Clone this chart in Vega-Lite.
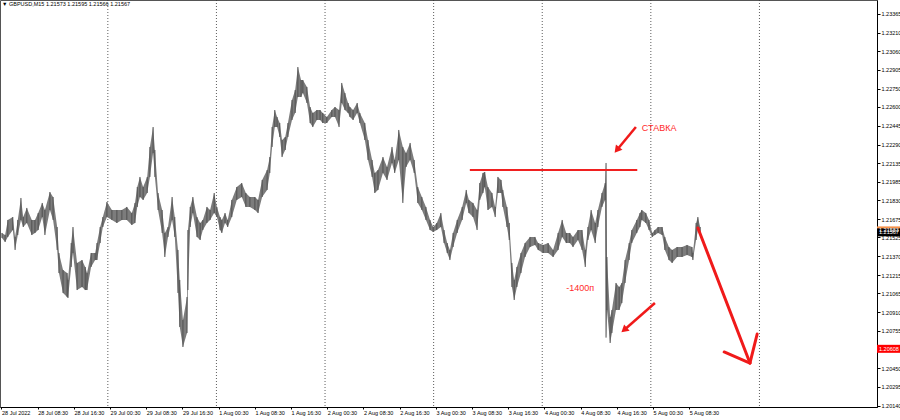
{
  "$schema": "https://vega.github.io/schema/vega-lite/v6.json",
  "width": 877,
  "height": 407,
  "autosize": {"type": "none"},
  "padding": {"left": 0, "top": 0, "right": 23, "bottom": 13},
  "background": "white",
  "config": {"view": {"stroke": "#555555", "strokeWidth": 1}, "font": "Liberation Sans",
    "axis": {"labelOverlap": false, "labelBound": false, "labelFlush": false}},
  "title": {"text": "▼ GBPUSD,M15  1.21573 1.21595 1.21566 1.21567", "anchor": "start", "fontSize": 5.5, "fontWeight": "normal", "color": "#000000", "offset": -8, "dx": 2, "font": "Liberation Sans"},
  "datasets": {
    "bars": [
      {"h":0.1,"hi":1.21562,"lo":1.21521},{"h":0.8,"hi":1.21545,"lo":1.21488},{"h":1.4,"hi":1.21669,"lo":1.21529},{"h":2.5,"hi":1.21693,"lo":1.21586},{"h":3.0,"hi":1.21529,"lo":1.21422},{"h":3.6,"hi":1.21669,"lo":1.21545},{"h":4.3,"hi":1.21850,"lo":1.21669},{"h":4.8,"hi":1.21693,"lo":1.21611},{"h":5.6,"hi":1.21768,"lo":1.21644},{"h":6.7,"hi":1.21669,"lo":1.21545},
      {"h":7.4,"hi":1.21669,"lo":1.21562},{"h":8.1,"hi":1.21726,"lo":1.21586},{"h":9.0,"hi":1.21809,"lo":1.21693},{"h":9.6,"hi":1.21751,"lo":1.21545},{"h":10.7,"hi":1.21899,"lo":1.21751},{"h":11.4,"hi":1.21858,"lo":1.21669},{"h":12.3,"hi":1.21611,"lo":1.21422},{"h":12.7,"hi":1.21397,"lo":1.21232},{"h":13.6,"hi":1.21257,"lo":1.21068},{"h":14.5,"hi":1.21232,"lo":1.21035},
      {"h":14.7,"hi":1.21175,"lo":1.21027},{"h":15.4,"hi":1.21479,"lo":1.21282},{"h":15.8,"hi":1.21611,"lo":1.21397},{"h":16.7,"hi":1.21315,"lo":1.21092},{"h":17.8,"hi":1.21339,"lo":1.21117},{"h":18.5,"hi":1.21282,"lo":1.21092},{"h":18.9,"hi":1.21232,"lo":1.21092},{"h":19.8,"hi":1.21397,"lo":1.21282},{"h":20.7,"hi":1.21397,"lo":1.21339},{"h":21.1,"hi":1.21479,"lo":1.21339},
      {"h":21.8,"hi":1.21611,"lo":1.21479},{"h":22.4,"hi":1.21693,"lo":1.21611},{"h":23.3,"hi":1.21817,"lo":1.21693},{"h":24.4,"hi":1.21751,"lo":1.21669},{"h":25.5,"hi":1.21751,"lo":1.21644},{"h":26.6,"hi":1.21751,"lo":1.21669},{"h":27.7,"hi":1.21776,"lo":1.21669},{"h":28.8,"hi":1.21726,"lo":1.21628},{"h":29.5,"hi":1.21809,"lo":1.21644},{"h":30.0,"hi":1.21940,"lo":1.21776},
      {"h":30.6,"hi":1.22023,"lo":1.21858},{"h":31.3,"hi":1.21940,"lo":1.21834},{"h":32.2,"hi":1.22023,"lo":1.21891},{"h":32.8,"hi":1.22270,"lo":1.22023},{"h":33.5,"hi":1.22434,"lo":1.22220},{"h":33.9,"hi":1.22245,"lo":1.22023},{"h":34.6,"hi":1.21891,"lo":1.21751},{"h":35.5,"hi":1.21751,"lo":1.21562},{"h":36.1,"hi":1.21562,"lo":1.21364},{"h":36.8,"hi":1.21611,"lo":1.21529},
      {"h":37.7,"hi":1.21858,"lo":1.21669},{"h":38.3,"hi":1.21693,"lo":1.21529},{"h":39.0,"hi":1.21422,"lo":1.21068},{"h":39.4,"hi":1.21175,"lo":1.20788},{"h":40.1,"hi":1.20845,"lo":1.20623},{"h":41.0,"hi":1.21035,"lo":1.20738},{"h":41.2,"hi":1.21586,"lo":1.21092},{"h":41.7,"hi":1.21776,"lo":1.21611},{"h":42.3,"hi":1.21858,"lo":1.21726},{"h":43.2,"hi":1.21693,"lo":1.21529},
      {"h":43.9,"hi":1.21644,"lo":1.21504},{"h":44.5,"hi":1.21669,"lo":1.21586},{"h":45.4,"hi":1.21776,"lo":1.21644},{"h":46.1,"hi":1.21751,"lo":1.21669},{"h":47.0,"hi":1.21891,"lo":1.21726},{"h":47.6,"hi":1.21776,"lo":1.21693},{"h":48.3,"hi":1.21693,"lo":1.21586},{"h":48.7,"hi":1.21669,"lo":1.21562},{"h":49.4,"hi":1.21726,"lo":1.21644},{"h":50.0,"hi":1.21669,"lo":1.21611},
      {"h":50.9,"hi":1.21834,"lo":1.21693},{"h":52.0,"hi":1.21940,"lo":1.21834},{"h":53.1,"hi":1.21973,"lo":1.21858},{"h":54.0,"hi":1.21891,"lo":1.21776},{"h":54.9,"hi":1.21858,"lo":1.21776},{"h":56.0,"hi":1.21858,"lo":1.21751},{"h":56.7,"hi":1.21834,"lo":1.21726},{"h":57.6,"hi":1.21998,"lo":1.21858},{"h":58.7,"hi":1.22080,"lo":1.21916},{"h":59.3,"hi":1.22187,"lo":1.22056},
      {"h":59.8,"hi":1.22434,"lo":1.22270},{"h":60.4,"hi":1.22574,"lo":1.22434},{"h":60.9,"hi":1.22517,"lo":1.22434},{"h":61.5,"hi":1.22467,"lo":1.22352},{"h":62.0,"hi":1.22327,"lo":1.22187},{"h":62.7,"hi":1.22352,"lo":1.22245},{"h":63.3,"hi":1.22467,"lo":1.22352},{"h":64.2,"hi":1.22657,"lo":1.22492},{"h":64.9,"hi":1.22739,"lo":1.22550},{"h":65.5,"hi":1.22928,"lo":1.22681},
      {"h":66.2,"hi":1.22821,"lo":1.22681},{"h":66.6,"hi":1.22821,"lo":1.22714},{"h":67.5,"hi":1.22764,"lo":1.22632},{"h":68.2,"hi":1.22599,"lo":1.22467},{"h":68.8,"hi":1.22550,"lo":1.22434},{"h":69.7,"hi":1.22574,"lo":1.22492},{"h":70.4,"hi":1.22574,"lo":1.22492},{"h":71.0,"hi":1.22550,"lo":1.22467},{"h":71.9,"hi":1.22517,"lo":1.22467},{"h":73.0,"hi":1.22574,"lo":1.22517},
      {"h":73.7,"hi":1.22599,"lo":1.22517},{"h":74.6,"hi":1.22574,"lo":1.22434},{"h":75.2,"hi":1.22797,"lo":1.22632},{"h":75.9,"hi":1.22714,"lo":1.22574},{"h":76.6,"hi":1.22632,"lo":1.22550},{"h":77.0,"hi":1.22599,"lo":1.22517},{"h":77.7,"hi":1.22574,"lo":1.22492},{"h":78.6,"hi":1.22632,"lo":1.22550},{"h":79.2,"hi":1.22550,"lo":1.22467},{"h":80.3,"hi":1.22467,"lo":1.22327},
      {"h":81.0,"hi":1.22327,"lo":1.22163},{"h":81.9,"hi":1.22163,"lo":1.22023},{"h":82.5,"hi":1.22056,"lo":1.21891},{"h":83.2,"hi":1.22080,"lo":1.21916},{"h":84.3,"hi":1.22187,"lo":1.22056},{"h":85.2,"hi":1.22105,"lo":1.21998},{"h":86.3,"hi":1.22270,"lo":1.22138},{"h":86.9,"hi":1.22163,"lo":1.22056},{"h":87.8,"hi":1.22410,"lo":1.22163},{"h":88.7,"hi":1.22270,"lo":1.21809},
      {"h":89.4,"hi":1.22220,"lo":1.22105},{"h":90.3,"hi":1.22303,"lo":1.22163},{"h":91.2,"hi":1.22163,"lo":1.22056},{"h":92.0,"hi":1.21940,"lo":1.21809},{"h":92.9,"hi":1.21858,"lo":1.21751},{"h":93.8,"hi":1.21776,"lo":1.21669},{"h":94.7,"hi":1.21669,"lo":1.21586},{"h":95.4,"hi":1.21611,"lo":1.21570},{"h":96.2,"hi":1.21644,"lo":1.21586},{"h":97.1,"hi":1.21726,"lo":1.21611},
      {"h":97.8,"hi":1.21586,"lo":1.21479},{"h":98.5,"hi":1.21479,"lo":1.21397},{"h":99.1,"hi":1.21422,"lo":1.21339},{"h":99.8,"hi":1.21562,"lo":1.21446},{"h":100.7,"hi":1.21669,"lo":1.21562},{"h":101.8,"hi":1.21776,"lo":1.21669},{"h":102.7,"hi":1.21916,"lo":1.21809},{"h":103.3,"hi":1.21834,"lo":1.21726},{"h":104.2,"hi":1.21809,"lo":1.21693},{"h":105.1,"hi":1.21751,"lo":1.21586},
      {"h":105.7,"hi":1.21973,"lo":1.21834},{"h":106.4,"hi":1.22056,"lo":1.21891},{"h":106.8,"hi":1.22064,"lo":1.21940},{"h":107.5,"hi":1.21940,"lo":1.21751},{"h":108.4,"hi":1.21891,"lo":1.21776},{"h":109.1,"hi":1.21776,"lo":1.21693},{"h":109.7,"hi":1.22023,"lo":1.21891},{"h":110.4,"hi":1.21998,"lo":1.21891},{"h":110.8,"hi":1.21916,"lo":1.21776},{"h":111.7,"hi":1.21776,"lo":1.21611},
      {"h":112.2,"hi":1.21644,"lo":1.21504},{"h":112.8,"hi":1.21315,"lo":1.21117},{"h":113.3,"hi":1.21175,"lo":1.21010},{"h":113.9,"hi":1.21282,"lo":1.21117},{"h":114.8,"hi":1.21397,"lo":1.21232},{"h":115.7,"hi":1.21479,"lo":1.21364},{"h":116.8,"hi":1.21529,"lo":1.21446},{"h":117.9,"hi":1.21529,"lo":1.21463},{"h":118.6,"hi":1.21479,"lo":1.21422},{"h":119.7,"hi":1.21463,"lo":1.21397},
      {"h":120.8,"hi":1.21479,"lo":1.21397},{"h":121.9,"hi":1.21422,"lo":1.21364},{"h":123.0,"hi":1.21562,"lo":1.21422},{"h":123.9,"hi":1.21669,"lo":1.21529},{"h":124.8,"hi":1.21562,"lo":1.21479},{"h":125.6,"hi":1.21562,"lo":1.21479},{"h":126.3,"hi":1.21529,"lo":1.21446},{"h":127.4,"hi":1.21586,"lo":1.21504},{"h":128.3,"hi":1.21586,"lo":1.21422},{"h":129.0,"hi":1.21422,"lo":1.21282},
      {"h":129.6,"hi":1.21611,"lo":1.21504},{"h":130.3,"hi":1.21751,"lo":1.21586},{"h":131.2,"hi":1.21644,"lo":1.21479},{"h":131.8,"hi":1.21751,"lo":1.21611},{"h":132.7,"hi":1.21891,"lo":1.21776},{"h":133.4,"hi":1.21973,"lo":1.21834},{"h":133.6,"hi":1.22138,"lo":1.20700},{"h":133.8,"hi":1.21364,"lo":1.20928},{"h":134.5,"hi":1.20870,"lo":1.20656},{"h":134.9,"hi":1.20928,"lo":1.20738},
      {"h":135.8,"hi":1.21150,"lo":1.20928},{"h":136.5,"hi":1.21117,"lo":1.20928},{"h":137.1,"hi":1.21150,"lo":1.20985},{"h":137.8,"hi":1.21339,"lo":1.21150},{"h":138.7,"hi":1.21479,"lo":1.21339},{"h":139.3,"hi":1.21586,"lo":1.21479},{"h":140.4,"hi":1.21669,"lo":1.21562},{"h":141.1,"hi":1.21726,"lo":1.21611},{"h":141.5,"hi":1.21751,"lo":1.21669},{"h":142.4,"hi":1.21726,"lo":1.21644},
      {"h":143.1,"hi":1.21669,"lo":1.21586},{"h":143.8,"hi":1.21562,"lo":1.21529},{"h":144.4,"hi":1.21586,"lo":1.21545},{"h":145.1,"hi":1.21611,"lo":1.21562},{"h":146.0,"hi":1.21611,"lo":1.21545},{"h":146.6,"hi":1.21529,"lo":1.21422},{"h":147.5,"hi":1.21446,"lo":1.21339},{"h":148.2,"hi":1.21422,"lo":1.21315},{"h":149.3,"hi":1.21446,"lo":1.21364},{"h":150.4,"hi":1.21446,"lo":1.21364},
      {"h":151.5,"hi":1.21463,"lo":1.21381},{"h":152.6,"hi":1.21446,"lo":1.21364},{"h":152.8,"hi":1.21397,"lo":1.21339},{"h":153.5,"hi":1.21644,"lo":1.21504},{"h":153.9,"hi":1.21693,"lo":1.21586},{"h":154.4,"hi":1.21611,"lo":1.21562}
    ],
    "days": [{"h":23.5},{"h":47.5},{"h":71.5},{"h":95.5},{"h":119.5},{"h":143.5},{"h":167.5}],
    "top": [{"h":103.5,"p":1.22080},{"h":140.5,"p":1.22080}],
    "small": [{"s":"a1","h":140.2,"p":1.22434},{"s":"a1","h":136.0,"p":1.22245},{"s":"a2","h":144.4,"p":1.20985},{"s":"a2","h":137.6,"p":1.20763}],
    "big": [{"s":"shaft","h":153.9,"p":1.21603},{"s":"shaft","h":165.4,"p":1.20491},{"s":"v1","h":159.7,"p":1.20582},{"s":"v1","h":165.4,"p":1.20491},{"s":"v2","h":167.0,"p":1.20730},{"s":"v2","h":165.4,"p":1.20491}],
    "notes": [{"t":"СТАВКА","h":141.5,"p":1.22426},{"t":"-1400п","h":124.8,"p":1.21109}],
    "tags": [{"k":"ask","p":1.21583,"t":"1.21583"},{"k":"bid","p":1.21567,"t":"1.21567"},{"k":"lvl","p":1.20608,"t":"1.20608"}]
  },
  "layer": [
    {
      "data": {"name": "days"},
      "mark": {"type": "rule", "color": "#333333", "strokeDash": [1, 2], "strokeWidth": 0.8},
      "encoding": {
        "x": {"field": "h", "type": "quantitative",
          "scale": {"domain": [-0.33, 193.48], "nice": false, "zero": false},
          "axis": {"orient": "bottom", "title": null, "grid": false, "tickCount": 40,
            "values": [0,8,16,24,32,40,48,56,64,72,80,88,96,104,112,120,128,136,144,152],
            "labelExpr": "['28 Jul 2022','28 Jul 08:30','28 Jul 16:30','29 Jul 00:30','29 Jul 08:30','29 Jul 16:30','1 Aug 00:30','1 Aug 08:30','1 Aug 16:30','2 Aug 00:30','2 Aug 08:30','2 Aug 16:30','3 Aug 00:30','3 Aug 08:30','3 Aug 16:30','4 Aug 00:30','4 Aug 08:30','4 Aug 16:30','5 Aug 00:30','5 Aug 08:30'][round(datum.value/8)]",
            "labelAlign": "left", "labelBaseline": "top", "labelPadding": 1, "labelFontSize": 5.5, "labelColor": "#000000",
            "labelFont": "Liberation Sans", "labelOverlap": false, "labelFlush": false, "labelBound": false,
            "tickSize": 2, "tickColor": "#000000", "domainColor": "#000000"}
        }
      }
    },
    {
      "data": {"name": "bars"},
      "mark": {"type": "area", "color": "#7c7c7c", "opacity": 1},
      "encoding": {
        "x": {"field": "h", "type": "quantitative"},
        "y": {"field": "hi", "type": "quantitative",
          "scale": {"domain": [1.20129, 1.23480], "nice": false, "zero": false},
          "axis": {"orient": "right", "title": null, "grid": false, "tickCount": 40,
            "values": [1.23365,1.23210,1.23060,1.22905,1.22750,1.22600,1.22445,1.22290,1.22135,1.21985,1.21830,1.21675,1.21525,1.21370,1.21215,1.21065,1.20910,1.20755,1.20600,1.20450,1.20295,1.20140],
            "format": ".5f", "labelFontSize": 5.5, "labelColor": "#000000", "labelFont": "Liberation Sans",
            "labelPadding": 1, "tickSize": 3, "tickColor": "#000000", "domainColor": "#000000", "labelOverlap": false, "labelBound": false}
        },
        "y2": {"field": "lo"}
      }
    },
    {
      "data": {"name": "bars"},
      "mark": {"type": "rule", "color": "#505050", "strokeWidth": 1},
      "encoding": {
        "x": {"field": "h", "type": "quantitative"},
        "y": {"field": "hi", "type": "quantitative"},
        "y2": {"field": "lo"}
      }
    },
    {
      "mark": {"type": "rule", "color": "#c8c8c8", "strokeWidth": 1},
      "encoding": {"y": {"datum": 1.21567, "type": "quantitative"}}
    },
    {
      "mark": {"type": "rule", "color": "#f7924a", "strokeWidth": 1},
      "encoding": {"y": {"datum": 1.21583, "type": "quantitative"}}
    },
    {
      "mark": {"type": "rule", "color": "#ff0000", "strokeWidth": 1.5},
      "encoding": {"y": {"datum": 1.20608, "type": "quantitative"}}
    },
    {
      "data": {"name": "top"},
      "mark": {"type": "line", "color": "#f02020", "strokeWidth": 2},
      "encoding": {
        "x": {"field": "h", "type": "quantitative"},
        "y": {"field": "p", "type": "quantitative"}
      }
    },
    {
      "data": {"name": "small"},
      "mark": {"type": "line", "color": "#f01a1a", "strokeWidth": 2.5},
      "encoding": {
        "x": {"field": "h", "type": "quantitative"},
        "y": {"field": "p", "type": "quantitative"},
        "detail": {"field": "s", "type": "nominal"}
      }
    },
    {
      "data": {"values": [{"h": 136.0, "p": 1.22245}]},
      "mark": {"type": "point", "shape": "triangle-up", "filled": true, "color": "#f01a1a", "opacity": 1, "size": 70, "angle": 219},
      "encoding": {
        "x": {"field": "h", "type": "quantitative"},
        "y": {"field": "p", "type": "quantitative"}
      }
    },
    {
      "data": {"values": [{"h": 137.6, "p": 1.20763}]},
      "mark": {"type": "point", "shape": "triangle-up", "filled": true, "color": "#f01a1a", "opacity": 1, "size": 70, "angle": 229},
      "encoding": {
        "x": {"field": "h", "type": "quantitative"},
        "y": {"field": "p", "type": "quantitative"}
      }
    },
    {
      "data": {"name": "big"},
      "mark": {"type": "line", "color": "#f01a1a", "strokeWidth": 3, "strokeCap": "round"},
      "encoding": {
        "x": {"field": "h", "type": "quantitative"},
        "y": {"field": "p", "type": "quantitative"},
        "detail": {"field": "s", "type": "nominal"}
      }
    },
    {
      "data": {"name": "notes"},
      "mark": {"type": "text", "align": "left", "baseline": "middle", "fontSize": 9, "color": "#ff2a2a", "font": "Liberation Sans"},
      "encoding": {
        "x": {"field": "h", "type": "quantitative"},
        "y": {"field": "p", "type": "quantitative"},
        "text": {"field": "t"}
      }
    },
    {
      "data": {"name": "tags"},
      "mark": {"type": "rect", "x2Offset": 23, "yOffset": -4, "y2Offset": 4},
      "encoding": {
        "x": {"datum": 193.48, "type": "quantitative"},
        "x2": {"datum": 193.48},
        "y": {"field": "p", "type": "quantitative"},
        "y2": {"field": "p"},
        "color": {"field": "k", "type": "nominal", "legend": null,
          "scale": {"domain": ["ask", "bid", "lvl"], "range": ["#f7924a", "#000000", "#ff0000"]}}
      }
    },
    {
      "data": {"name": "tags"},
      "mark": {"type": "text", "align": "left", "baseline": "middle", "dx": 2, "fontSize": 5.5, "fill": "#ffffff", "font": "Liberation Sans"},
      "encoding": {
        "x": {"datum": 193.48, "type": "quantitative"},
        "y": {"field": "p", "type": "quantitative"},
        "text": {"field": "t"}
      }
    }
  ]
}
